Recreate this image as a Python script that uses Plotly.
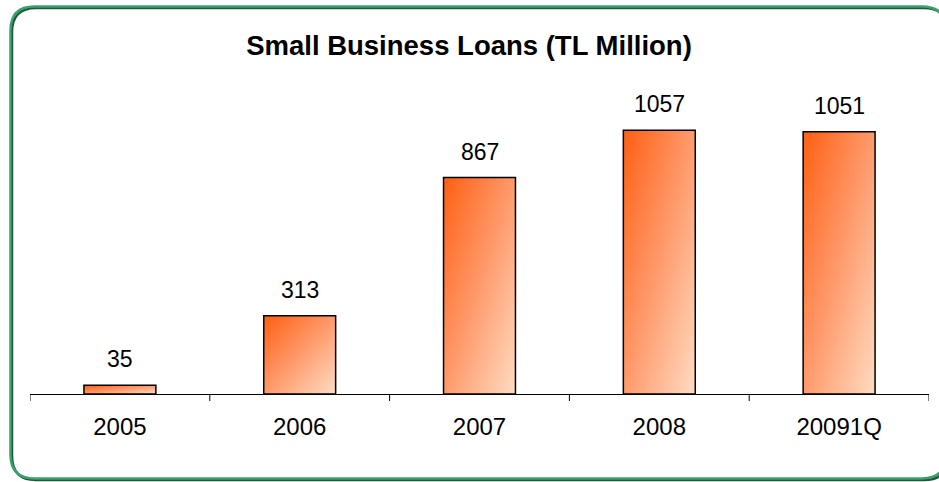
import plotly.graph_objects as go

# Small business loan volumes, TL million
categories = ["2005", "2006", "2007", "2008", "20091Q"]
loans = [35, 313, 867, 1057, 1051]

FONT = "Liberation Sans, Arial, sans-serif"
W, H = 939, 482
M_L, M_R, M_T, M_B = 30, 10, 80, 88
PLOT_W = W - M_L - M_R
PLOT_H = H - M_T - M_B
BAR_W = 0.4

# Diagonal orange-to-peach fill used behind each bar outline
GRADIENT_SVG = (
    "data:image/svg+xml;utf8,"
    "<svg xmlns='http://www.w3.org/2000/svg' width='100' height='100' "
    "viewBox='0 0 100 100' preserveAspectRatio='none'>"
    "<defs><linearGradient id='g' x1='0' y1='0' x2='1' y2='1'>"
    "<stop offset='0' stop-color='%23ff5f12'/>"
    "<stop offset='0.5' stop-color='%23ff9a6c'/>"
    "<stop offset='1' stop-color='%23ffdcc2'/>"
    "</linearGradient></defs>"
    "<rect x='0' y='0' width='100' height='100' fill='url(%23g)'/></svg>"
)


def px(x):
    return (x - M_L) / PLOT_W


def py(y):
    return (H - M_B - y) / PLOT_H


def rounded_rect(x0, y0, x1, y1, r):
    pts = [
        f"M {px(x0 + r)},{py(y0)}",
        f"L {px(x1 - r)},{py(y0)}",
        f"Q {px(x1)},{py(y0)} {px(x1)},{py(y0 + r)}",
        f"L {px(x1)},{py(y1 - r)}",
        f"Q {px(x1)},{py(y1)} {px(x1 - r)},{py(y1)}",
        f"L {px(x0 + r)},{py(y1)}",
        f"Q {px(x0)},{py(y1)} {px(x0)},{py(y1 - r)}",
        f"L {px(x0)},{py(y0 + r)}",
        f"Q {px(x0)},{py(y0)} {px(x0 + r)},{py(y0)}",
        "Z",
    ]
    return " ".join(pts)


fig = go.Figure()

fig.add_trace(go.Bar(
    x=list(range(len(categories))),
    y=loans,
    width=BAR_W,
    marker=dict(color="rgba(0,0,0,0)", line=dict(color="#000000", width=1.5)),
    hoverinfo="x+y",
    showlegend=False,
))

images = []
annotations = []
for i, v in enumerate(loans):
    images.append(dict(
        source=GRADIENT_SVG, xref="x", yref="y",
        x=i, y=v, sizex=BAR_W, sizey=v,
        xanchor="center", yanchor="top",
        sizing="stretch", layer="below",
    ))
    annotations.append(dict(
        x=i, y=v, xref="x", yref="y", text=str(v),
        showarrow=False, yanchor="middle", yshift=26,
        font=dict(family=FONT, size=23, color="#000000"),
    ))

# Rounded frame with a dark drop shadow on the lower/right edges
shapes = [
    dict(type="path", xref="paper", yref="paper",
         path=rounded_rect(12, 8, 948, 480, 24),
         line=dict(color="#1d5a3a", width=2.5), layer="below"),
    dict(type="path", xref="paper", yref="paper",
         path=rounded_rect(10.5, 6.5, 946, 478.5, 24),
         line=dict(color="#3ca06e", width=2.5), layer="below"),
]

fig.update_layout(
    width=W, height=H,
    margin=dict(l=M_L, r=M_R, t=M_T, b=M_B),
    paper_bgcolor="white", plot_bgcolor="white",
    title=dict(
        text="<b>Small Business Loans (TL Million)</b>",
        x=469 / W, xref="container", xanchor="center",
        y=1 - 45 / H, yref="container", yanchor="middle",
        font=dict(family=FONT, size=27.5, color="#000000"),
    ),
    xaxis=dict(
        tickmode="array",
        tickvals=list(range(len(categories))),
        ticktext=categories,
        range=[-0.5, len(categories) - 0.5],
        showline=True, linecolor="#000000", linewidth=1,
        showgrid=False, zeroline=False,
        ticks="", ticklabelstandoff=11,
        tickfont=dict(family=FONT, size=24, color="#000000"),
    ),
    yaxis=dict(range=[0, 1258], visible=False, fixedrange=True),
    images=images,
    annotations=annotations,
    shapes=shapes,
    bargap=0.6,
)

# Boundary tick marks between categories on the x axis
for k in range(len(categories) + 1):
    fig.add_shape(
        type="line", xref="x", yref="paper",
        x0=k - 0.5, x1=k - 0.5, y0=0, y1=-7 / PLOT_H,
        line=dict(color="#000000", width=1),
    )

fig.write_html("out.html")
